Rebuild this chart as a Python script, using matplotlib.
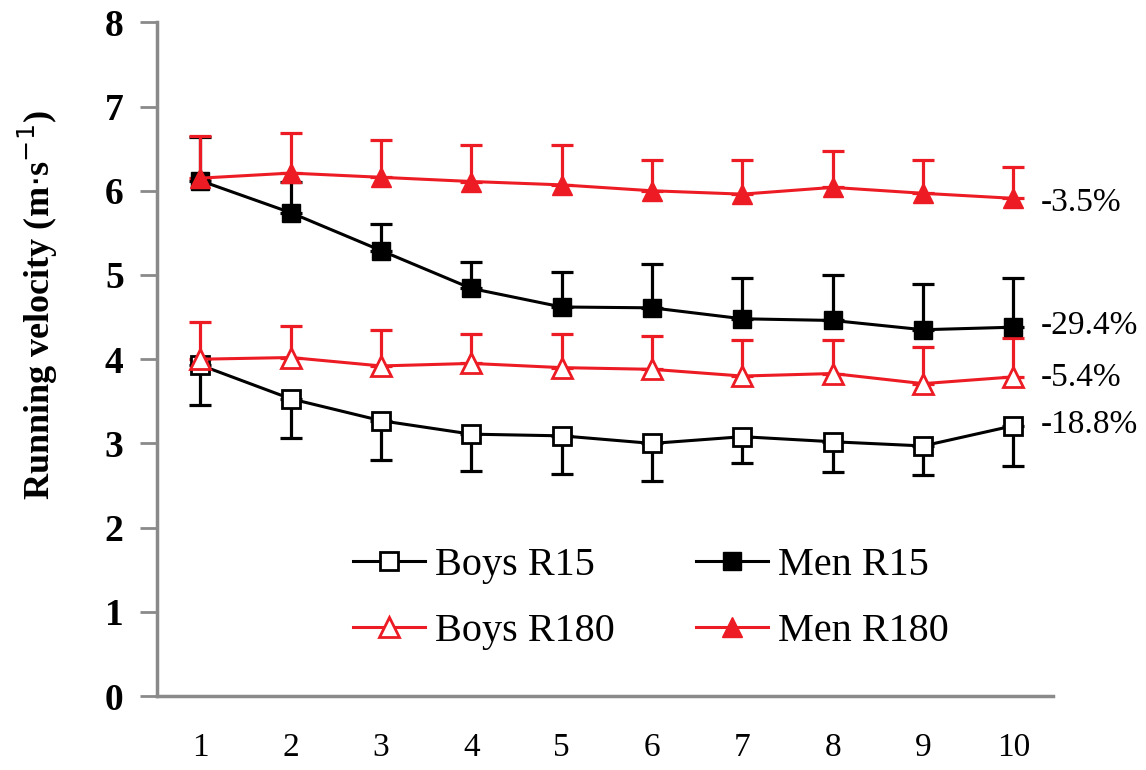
import numpy as np
import matplotlib
matplotlib.use("Agg")
import matplotlib.pyplot as plt

plt.rcParams['font.family'] = ['Liberation Serif', 'DejaVu Serif']

bouts = [1, 2, 3, 4, 5, 6, 7, 8, 9, 10]

men_r180 = [6.15, 6.21, 6.16, 6.11, 6.07, 6.00, 5.96, 6.04, 5.97, 5.91]
men_r180_sd = [0.50, 0.48, 0.44, 0.43, 0.47, 0.37, 0.41, 0.43, 0.40, 0.37]

men_r15 = [6.12, 5.74, 5.29, 4.84, 4.62, 4.61, 4.48, 4.46, 4.35, 4.38]
men_r15_sd = [0.52, 0.36, 0.32, 0.31, 0.41, 0.52, 0.48, 0.54, 0.54, 0.58]

boys_r180 = [4.00, 4.02, 3.92, 3.95, 3.90, 3.88, 3.80, 3.83, 3.71, 3.79]
boys_r180_sd = [0.44, 0.37, 0.43, 0.35, 0.40, 0.39, 0.43, 0.40, 0.43, 0.46]

boys_r15 = [3.93, 3.53, 3.27, 3.11, 3.09, 3.00, 3.08, 3.02, 2.97, 3.21]
boys_r15_sd = [0.47, 0.46, 0.47, 0.44, 0.45, 0.45, 0.31, 0.36, 0.35, 0.48]

pct_labels = ["-3.5%", "-29.4%", "-5.4%", "-18.8%"]
pct_y = [5.86, 4.40, 3.78, 3.22]

RED = '#ED1C24'
GREY = '#8a8a8a'

fig = plt.figure(figsize=(11.46, 7.7), dpi=100)
ax = fig.add_axes([0.137, 0.096, 0.782, 0.875])

x = np.array(bouts)
zeros = np.zeros(len(x))

# error bars (one-sided)
eb = dict(elinewidth=2.3, capsize=8, capthick=2.3, fmt='none')
ax.errorbar(x, boys_r15, yerr=[boys_r15_sd, zeros], ecolor='black', zorder=2, **eb)
ax.errorbar(x, men_r15, yerr=[zeros, men_r15_sd], ecolor='black', zorder=2, **eb)
ax.errorbar(x, boys_r180, yerr=[zeros, boys_r180_sd], ecolor=RED, zorder=3, **eb)
ax.errorbar(x, men_r180, yerr=[zeros, men_r180_sd], ecolor=RED, zorder=3, **eb)

l1, = ax.plot(x, boys_r15, color='black', lw=2.2, marker='s', ms=13, mfc='white',
              mec='black', mew=2, label='Boys R15', zorder=4)
l2, = ax.plot(x, men_r15, color='black', lw=2.2, marker='s', ms=13, mfc='black',
              mec='black', label='Men R15', zorder=4)
l3, = ax.plot(x, boys_r180, color=RED, lw=2.2, marker='^', ms=14, mfc='white',
              mec=RED, mew=2, label='Boys R180', zorder=5)
l4, = ax.plot(x, men_r180, color=RED, lw=2.2, marker='^', ms=14, mfc=RED,
              mec=RED, label='Men R180', zorder=5)

for lab, yy in zip(pct_labels, pct_y):
    ax.text(10.3, yy, lab, fontsize=24, va='center', ha='left', clip_on=False)

ax.set_xlim(0.52, 10.44)
ax.set_ylim(0, 8)
ax.set_xticks(bouts)
ax.set_yticks(range(0, 9))
ax.tick_params(axis='x', length=0, pad=26, labelsize=24)
ax.tick_params(axis='y', length=12, width=2, color=GREY, pad=12, labelsize=27)
for t in ax.get_yticklabels():
    t.set_fontweight('bold')

for s in ['top', 'right']:
    ax.spines[s].set_visible(False)
for s in ['left', 'bottom']:
    ax.spines[s].set_color(GREY)
    ax.spines[s].set_linewidth(2.5)

ax.set_ylabel('Running velocity (m$\\cdot$s$^{-1}$)', fontsize=26,
              fontweight='bold')
ax.yaxis.set_label_coords(-0.108, 0.58)

# column-wise fill -> order so rows read Boys/Men
ax.legend(handles=[l1, l3, l2, l4], ncol=2, loc='center',
          bbox_to_anchor=(0.551, 0.145), frameon=False,
          fontsize=29, handlelength=1.8, handletextpad=0.25,
          columnspacing=2.0, labelspacing=0.72)

fig.savefig('out.png', dpi=100)
